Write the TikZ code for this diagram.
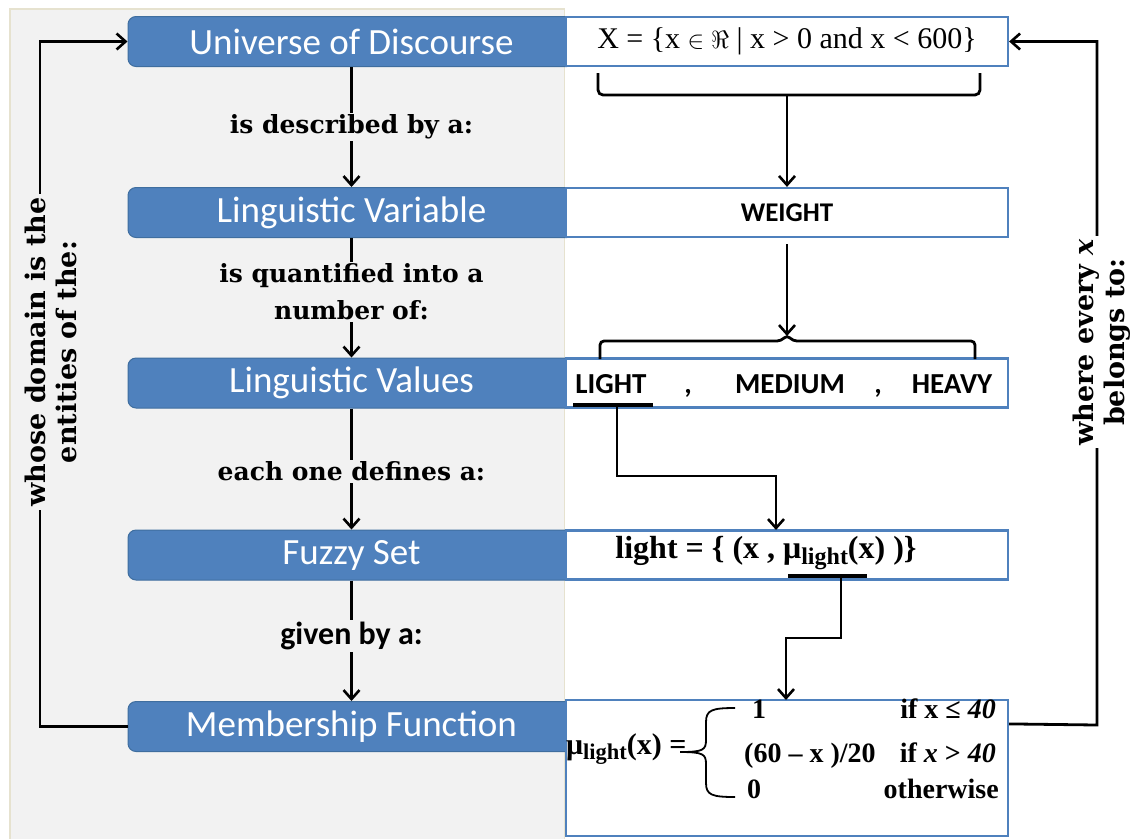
\documentclass[tikz,border=0pt]{standalone}
\usepackage{fontspec}
\setmainfont{Liberation Serif}
\newfontfamily\calfont{Carlito}
\newfontfamily\cambfont{DejaVu Serif}
\usetikzlibrary{arrows.meta}
\definecolor{panel}{HTML}{F2F2F2}
\definecolor{beige}{HTML}{E6E2CF}
\definecolor{bblue}{HTML}{4F81BD}
\definecolor{bdark}{HTML}{3F6E9F}
\newcommand\fsz[2][]{\fontsize{#2}{#2}\selectfont}
\newcommand\lsub[1]{\raisebox{-0.35ex}{\scalebox{0.75}{#1}}}
\begin{document}
\begin{tikzpicture}[x=1pt,y=-1pt,
  bluebox/.style={fill=bblue, draw=bdark, line width=1pt, rounded corners=8pt,
    minimum width=447pt, minimum height=50pt, text=white, font=\calfont\fsz{37}, inner sep=0pt},
  whitebox/.style={fill=white, draw=bblue, line width=2.2pt, minimum width=442pt,
    minimum height=49pt, inner sep=0pt},
  conn/.style={line width=2.8pt, draw=black},
  arr/.style={conn, -{Straight Barb[length=9pt,width=16pt,line width=2.6pt]}},
  lbl/.style={fill=panel, font=\cambfont\bfseries\fontsize{25}{37}\selectfont, align=center, inner sep=2pt},
  sidelbl/.style={rotate=90, font=\cambfont\bfseries\fontsize{27}{31}\selectfont, align=center, inner sep=3pt},
  valtxt/.style={font=\calfont\bfseries\fsz{29}, inner sep=0pt, anchor=base},
  mtxt/.style={font=\bfseries\fsz{28}, inner sep=0pt},
]
\useasboundingbox (0,0) rectangle (1139,839);
% background panel
\fill[panel] (10,9) rectangle (565,839);
\draw[beige, line width=2pt] (10,839) -- (10,9) -- (565,9);
\draw[beige, line width=1pt] (564,9) -- (564,839);

% left column
\node[bluebox] (uod)  at (351.5,41.5) {Universe of Discourse};
\node[bluebox] (lvar) at (351.5,212.5) {Linguistic Variable};
\node[bluebox] (lval) at (351.5,383) {Linguistic Values};
\node[bluebox] (fs)   at (351.5,555) {Fuzzy Set};
\node[bluebox] (mf)   at (351.5,726.5) {Membership Function};

% right column
\node[whitebox] (xset) at (787,41.5) {\fsz{30}X = \{x $\in \Re$ | x > 0 and x < 600\}};
\node[whitebox] (wt)   at (787,212.5) {\calfont\bfseries\fsz{27}WEIGHT};
\node[whitebox] (vals) at (787,383) {};
\node[whitebox] (fsr)  at (787,555) {};
\node[whitebox, minimum height=136pt] (mfr) at (787,768) {};

% linguistic values
\node[valtxt] (light)  at (611,393) {LIGHT};
\node[valtxt] (c1)     at (688,393) {,};
\node[valtxt] (medium) at (790,393) {MEDIUM};
\node[valtxt] (c2)     at (878,393) {,};
\node[valtxt] (heavy)  at (952,393) {HEAVY};
\draw[line width=3.5pt] (573,405) -- (653,405);
\coordinate (ul1) at (617,405);

% fuzzy set
\node[font=\bfseries\fsz{32}, inner sep=0pt] (lset) at (766,553) {light = \{ (x , μ\lsub{light}(x) )\}};
\draw[line width=3.5pt] (788,576) -- (867,576);
\coordinate (ul2) at (841,576);

% membership function
\node[mtxt, anchor=mid west, font=\bfseries\fsz{30}] (mu) at (566,752) {μ\lsub{light}(x) =};
\draw[line width=1.8pt] (735,708) .. controls (712,708) and (706,710) .. (706,722) -- (706,740)
   .. controls (706,750) and (703,752) .. (680,752);
\draw[line width=1.8pt] (735,797) .. controls (712,797) and (706,795) .. (706,783) -- (706,764)
   .. controls (706,754) and (703,752) .. (680,752);
\node[mtxt, anchor=mid west] (r1a) at (752,716) {1};
\node[mtxt, anchor=mid east] (r1b) at (996,716) {if x ≤ \textit{40}};
\node[mtxt, anchor=mid west] (r2a) at (744,760) {(60 – x )/20};
\node[mtxt, anchor=mid east] (r2b) at (996,760) {if \textit{x} > \textit{40}};
\node[mtxt, anchor=mid west] (r3a) at (747,796) {0};
\node[mtxt, anchor=mid east] (r3b) at (999,796) {otherwise};

% left vertical connectors with labels
\draw[arr] (uod) -- (lvar) node[lbl, pos=0.5] {is described by a:};
\draw[arr] (lvar) -- (lval) node[lbl, pos=0.45] {is quantified into a\\number of:};
\draw[arr] (lval) -- (fs) node[lbl, pos=0.52] {each one defines a:};
\draw[arr] (fs) -- (mf) node[lbl, pos=0.46, font=\calfont\bfseries\fsz{32}] {given by a:};

% right column connectors
\coordinate (b1) at (787,95);
\draw[conn, rounded corners=5pt] (598,73) -- (598,95) -- (980,95) -- (980,73);
\draw[arr] (b1) -- (wt.north);
\coordinate (b2) at (787,336);
\draw[arr] ([yshift=-6pt]wt.south) -- (b2);
\draw[conn, rounded corners=4pt] (600,359) -- (600,341) -- (781,341) -- (787,335) -- (793,341) -- (975,341) -- (975,359);
\coordinate (t1) at (776,530);
\draw[arr] (ul1) -- (617,476) -| (t1);
\coordinate (t2) at (786,700);
\draw[arr] (ul2) -- (841,638) -| (t2);

% outer loops
\draw[arr] (mf.west) -- (40,726.5) |- (uod.west);
\node[sidelbl, fill=panel] (wd) at (51,352) {whose domain is the\\entities of the:};
\draw[arr] ([yshift=-25pt]mfr.north east) -- (1097,725) |- (xset.east);
\node[sidelbl, fill=white] (we) at (1102,342) {where every \textit{x}\\belongs to:};
\end{tikzpicture}
\end{document}
